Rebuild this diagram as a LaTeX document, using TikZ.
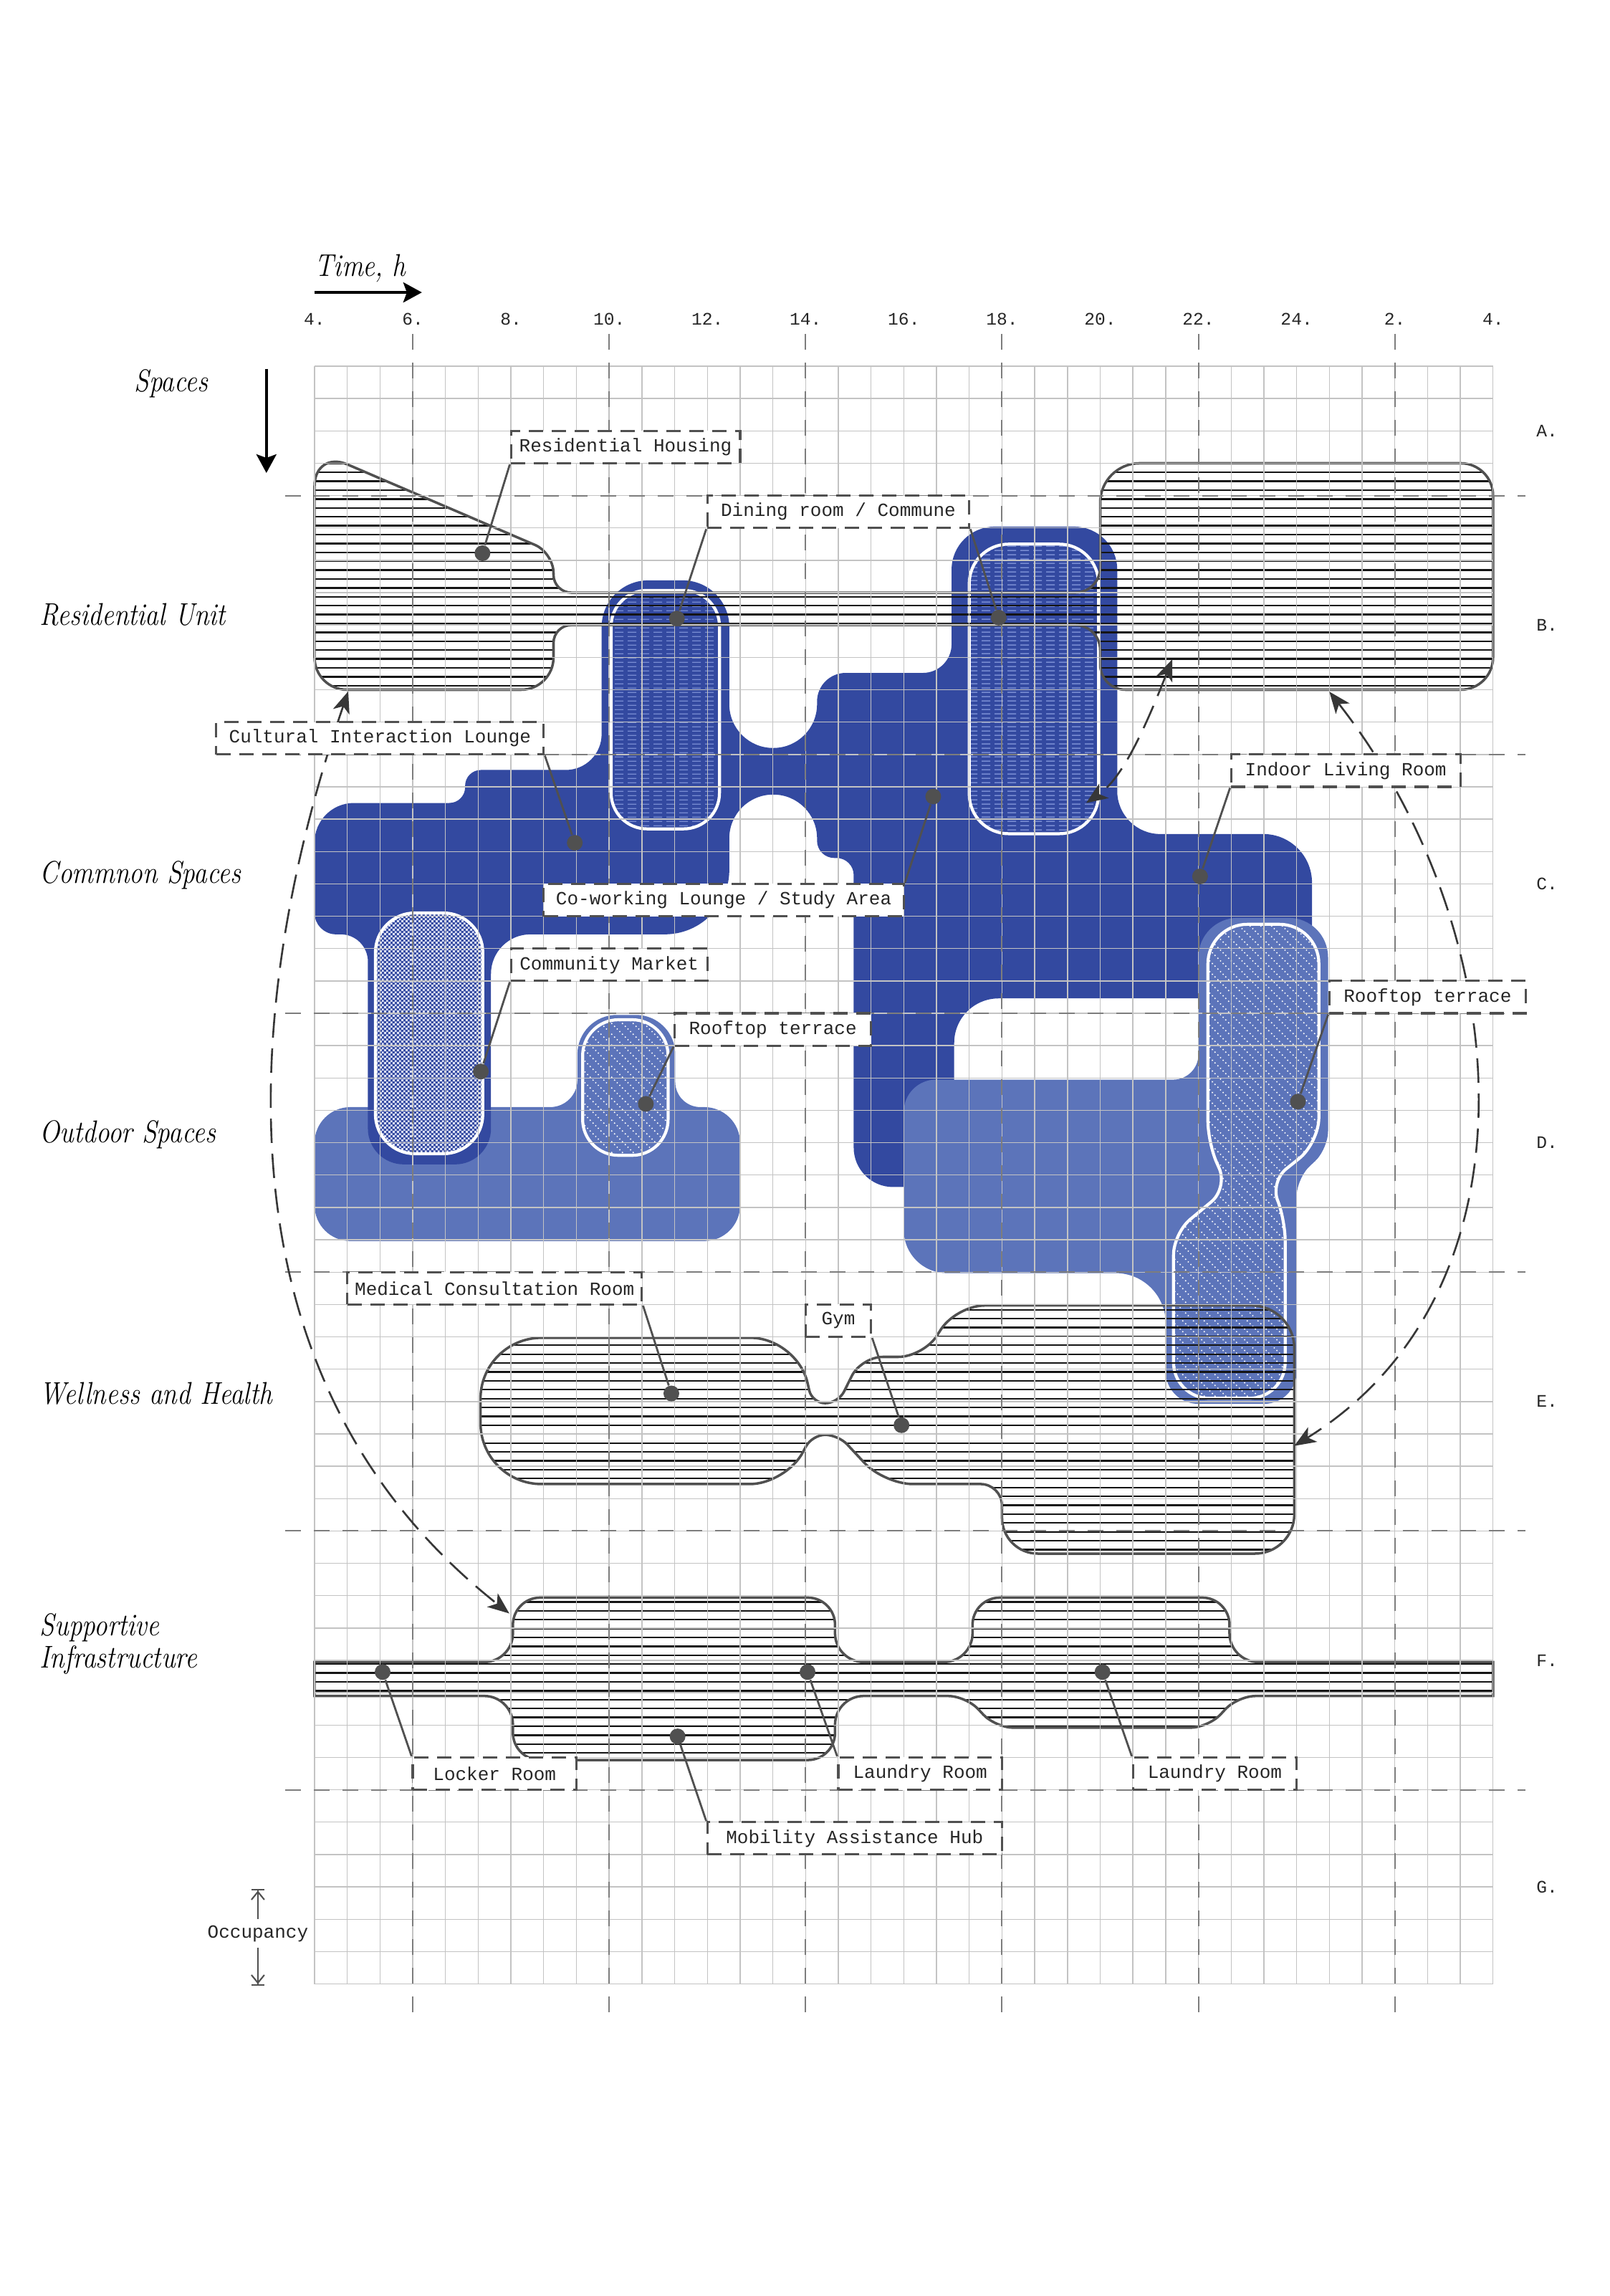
\documentclass[tikz,border=0pt]{standalone}
\usepackage{fontspec}
\usepackage{graphicx}
\usetikzlibrary{arrows.meta, patterns}
\newfontfamily\monofont{Liberation Mono}

\definecolor{darkblue}{RGB}{51,73,160}
\definecolor{lightblue}{RGB}{92,116,186}
\definecolor{outlinegray}{RGB}{80,80,80}
\definecolor{hatchblack}{RGB}{20,20,20}
\definecolor{gridgray}{RGB}{195,195,195}
\definecolor{guidegray}{RGB}{125,125,125}
\definecolor{linkgray}{RGB}{55,55,55}
\definecolor{checkwhite}{RGB}{222,226,246}
\definecolor{dashblue}{RGB}{120,140,210}

\newcommand{\cellw}{0.4569cm}
\newcommand{\cellh}{0.4515cm}
\newcommand{\narrow}[1]{\scalebox{0.85}[1]{#1}}

% fill textures
\pgfdeclarepatternformonly{finechecker}{\pgfqpoint{0pt}{0pt}}{\pgfqpoint{1.8pt}{1.8pt}}{\pgfqpoint{1.8pt}{1.8pt}}{%
  \pgfpathrectangle{\pgfqpoint{0pt}{0pt}}{\pgfqpoint{0.9pt}{0.9pt}}%
  \pgfpathrectangle{\pgfqpoint{0.9pt}{0.9pt}}{\pgfqpoint{0.9pt}{0.9pt}}%
  \pgfusepath{fill}}
\pgfdeclarepatternformonly{finedashes}{\pgfqpoint{0pt}{0pt}}{\pgfqpoint{5.2pt}{1.8pt}}{\pgfqpoint{5.2pt}{1.8pt}}{%
  \pgfsetlinewidth{0.4pt}%
  \pgfpathmoveto{\pgfqpoint{0pt}{0.9pt}}\pgfpathlineto{\pgfqpoint{3.6pt}{0.9pt}}%
  \pgfusepath{stroke}}
\pgfdeclarepatternformonly{dotdiagonal}{\pgfqpoint{0pt}{0pt}}{\pgfqpoint{4.2pt}{4.2pt}}{\pgfqpoint{4.2pt}{4.2pt}}{%
  \pgfpathcircle{\pgfqpoint{0.525pt}{3.675pt}}{0.32pt}%
  \pgfpathcircle{\pgfqpoint{1.575pt}{2.625pt}}{0.32pt}%
  \pgfpathcircle{\pgfqpoint{2.625pt}{1.575pt}}{0.32pt}%
  \pgfpathcircle{\pgfqpoint{3.675pt}{0.525pt}}{0.32pt}%
  \pgfusepath{fill}}

\begin{document}
\begin{tikzpicture}[
    x=0.4569cm, y=-0.4515cm,
    darkzone/.style={fill=darkblue},
    lightzone/.style={fill=lightblue},
    innerzone/.style={draw=white, line width=1.2pt},
    zoneline/.style={draw=outlinegray, line width=1pt},
    hatched/.style={path picture={
        \foreach \k in {0,...,32}
          \draw[hatchblack, line width=0.65pt]
            ([yshift=-0.06cm-\k*0.124cm]path picture bounding box.north west) -- ++(40,0);}},
    gridline/.style={gridgray, line width=0.4pt},
    guideline/.style={guidegray, line width=0.55pt, dash pattern=on 2.2mm off 1.8mm},
    relation/.style={linkgray, line width=0.75pt, dash pattern=on 3.4mm off 1.5mm,
        {Stealth[length=3mm,width=2.4mm,inset=0.8mm]}-{Stealth[length=3mm,width=2.4mm,inset=0.8mm]}},
    leaderline/.style={outlinegray, line width=0.8pt},
    anchordot/.style={circle, fill=outlinegray, inner sep=0pt, minimum size=2.2mm},
    labelbox/.style={draw=outlinegray, fill=white, line width=0.9pt, dash pattern=on 2mm off 1.2mm,
        font=\monofont\fontsize{7.4}{8}\selectfont, text=black!85, inner sep=0pt, minimum height=\cellh},
    ticklabel/.style={font=\monofont\fontsize{7}{8}\selectfont, text=black!85},
    rowtitle/.style={anchor=west, font=\fontsize{12.5}{12.8}\selectfont\itshape, align=left, inner sep=0pt},
    axisarrow/.style={line width=1.1pt, -{Stealth[length=2.6mm,width=2.8mm,inset=0.5mm]}},
    spanarrow/.style={outlinegray, line width=0.6pt, -{Straight Barb[length=1.1mm,width=1.8mm] Bar[width=1.8mm]}}
]
    \useasboundingbox (-9.608,-11.318) rectangle (39.571,59.646);

    % Outdoor spaces (left)
    \path[lightzone] (4,22.9) [rounded corners=0.38cm] -- (8.03,22.9)
        [rounded corners=0.55cm] -- (8.03,20.05) [rounded corners=0.55cm] -- (11.02,20.05)
        [rounded corners=0.35cm] -- (11.02,22.9) [rounded corners=0.5cm] -- (13,22.9)
        [rounded corners=0.5cm] -- (13,27.04) [rounded corners=0.5cm] -- (0,27.04)
        [rounded corners=0.5cm] -- (0,22.9) [sharp corners] -- cycle;

    % Common spaces
    \path[darkzone] (0,15.5) [rounded corners=0.55cm] -- (0,13.5)
        [rounded corners=0.22cm] -- (4.6,13.5) [rounded corners=0.22cm] -- (4.6,12.48)
        [rounded corners=0.5cm] -- (8.77,12.48) [rounded corners=0.65cm] -- (8.77,6.62)
        [rounded corners=0.65cm] -- (12.67,6.62) [rounded corners=0.61cm] -- (12.67,11.8)
        [rounded corners=0.61cm] -- (15.35,11.8) [rounded corners=0.4cm] -- (15.35,9.48)
        [rounded corners=0.4cm] -- (19.46,9.48) [rounded corners=0.6cm] -- (19.46,4.96)
        [rounded corners=0.6cm] -- (24.52,4.96) [rounded corners=0.6cm] -- (24.52,14.46)
        [rounded corners=0.68cm] -- (30.47,14.46) [rounded corners=0.2cm] -- (30.47,19.54)
        [rounded corners=0.62cm] -- (19.54,19.54) [rounded corners=0.2cm] -- (19.54,25.37)
        [rounded corners=0.55cm] -- (16.47,25.37) [rounded corners=0.24cm] -- (16.47,15.2)
        [rounded corners=0.24cm] -- (15.35,15.2) [rounded corners=0.61cm] -- (15.35,13.24)
        [rounded corners=0.61cm] -- (12.67,13.24) [rounded corners=0.9cm] -- (12.67,17.56)
        [rounded corners=0.55cm] -- (5.39,17.56) [rounded corners=0.5cm] -- (5.39,24.67)
        [rounded corners=0.5cm] -- (1.63,24.67) [rounded corners=0.38cm] -- (1.63,17.56)
        [rounded corners=0.3cm] -- (0,17.56) [sharp corners] -- cycle;

    % Outdoor spaces (right) with rooftop
    \path[lightzone] (22,22.05) [rounded corners=0.35cm] -- (27,22.05)
        [rounded corners=0.55cm] -- (27,17.05) [rounded corners=0.55cm] -- (30.96,17.05)
        [rounded corners=0.25cm] -- (30.96,24.2) [rounded corners=0.25cm] -- (30,25.1)
        [rounded corners=0.45cm] -- (30,32.07) [rounded corners=0.45cm] -- (26,32.07)
        [rounded corners=0.7cm] -- (26,28.03) [rounded corners=0.6cm] -- (18,28.03)
        [rounded corners=0.45cm] -- (18,22.05) [sharp corners] -- cycle;

    % Inner rooms
    \path[innerzone, pattern=finedashes, pattern color=dashblue, rounded corners=0.5cm]
        (9.06,6.93) rectangle (12.37,14.3);
    \path[innerzone, pattern=finedashes, pattern color=dashblue, rounded corners=0.55cm]
        (20,5.5) rectangle (23.95,14.45);
    \path[innerzone, pattern=finechecker, pattern color=checkwhite, rounded corners=0.55cm]
        (1.86,16.9) rectangle (5.14,24.34);
    \path[innerzone, pattern=dotdiagonal, pattern color=white, rounded corners=0.5cm]
        (8.19,20.2) rectangle (10.8,24.39);
    \path[innerzone, pattern=dotdiagonal, pattern color=white] (27.29,20)
        [rounded corners=0.55cm] -- (27.29,17.25) [rounded corners=0.55cm] -- (30.68,17.25)
        [rounded corners=0.35cm] -- (30.68,24) [rounded corners=0.28cm] -- (29.2,25.2)
        [rounded corners=0.28cm] -- (29.65,26.4) [rounded corners=0.5cm] -- (29.65,31.9)
        [rounded corners=0.5cm] -- (26.24,31.9) [rounded corners=0.3cm] -- (26.24,26.8)
        [rounded corners=0.3cm] -- (27.9,25.4) [rounded corners=0.3cm] -- (27.29,24)
        [sharp corners] -- cycle;

    % Residential unit
    \path[zoneline, hatched] (0,6.5) [rounded corners=0.5cm] -- (0,2.6)
        [rounded corners=0.28cm] -- (7.3,5.77) [rounded corners=0.25cm] -- (7.3,7)
        [rounded corners=0.35cm] -- (24,7) [rounded corners=0.55cm] -- (24,3)
        [rounded corners=0.45cm] -- (36,3) [rounded corners=0.45cm] -- (36,10)
        [rounded corners=0.35cm] -- (24,10) [rounded corners=0.35cm] -- (24,8)
        [rounded corners=0.25cm] -- (7.3,8) [rounded corners=0.45cm] -- (7.3,10)
        [rounded corners=0.45cm] -- (0,10) [sharp corners] -- cycle;

    % Wellness and health
    \path[zoneline, hatched] (5.07,32.3) [rounded corners=0.85cm] -- (5.07,30.03)
        [rounded corners=0.65cm] -- (14.75,30.03) [rounded corners=0.18cm] -- (15.2,32.05)
        [rounded corners=0.18cm] -- (16,32.05) [rounded corners=0.3cm] -- (16.7,30.62)
        [rounded corners=0.35cm] -- (18.6,30.62) [rounded corners=0.4cm] -- (19.6,29.03)
        [rounded corners=0.6cm] -- (29.93,29.03) [rounded corners=0.55cm] -- (29.93,36.7)
        [rounded corners=0.5cm] -- (21,36.7) [rounded corners=0.3cm] -- (21,34.55)
        [rounded corners=0.4cm] -- (17.4,34.55) [rounded corners=0.18cm] -- (16,33.03)
        [rounded corners=0.18cm] -- (15.2,33.03) [rounded corners=0.5cm] -- (14.4,34.55)
        [rounded corners=0.85cm] -- (5.07,34.55) [sharp corners] -- cycle;

    % Supportive infrastructure
    \path[zoneline, hatched] (0,40.05) [rounded corners=0.4cm] -- (6.06,40.05)
        [rounded corners=0.38cm] -- (6.06,38.06) [rounded corners=0.38cm] -- (15.9,38.06)
        [rounded corners=0.4cm] -- (15.9,40.05) [rounded corners=0.4cm] -- (20.1,40.05)
        [rounded corners=0.38cm] -- (20.1,38.06) [rounded corners=0.38cm] -- (27.95,38.06)
        [rounded corners=0.4cm] -- (27.95,40.05) [sharp corners] -- (36,40.05)
        [sharp corners] -- (36,41.1) [rounded corners=0.25cm] -- (28.2,41.1)
        [rounded corners=0.25cm] -- (27.3,42.08) [rounded corners=0.25cm] -- (20.8,42.08)
        [rounded corners=0.25cm] -- (19.9,41.1) [rounded corners=0.4cm] -- (15.9,41.1)
        [rounded corners=0.38cm] -- (15.9,43.08) [rounded corners=0.38cm] -- (6.06,43.08)
        [rounded corners=0.4cm] -- (6.06,41.1) [sharp corners] -- (0,41.1) -- cycle;

    % Grid and guides
    \foreach \c in {0,...,36} \draw[gridline] (\c,0) -- (\c,50);
    \foreach \r in {0,...,50} \draw[gridline] (0,\r) -- (36,\r);
    \foreach \c in {3,9,...,33} \draw[guideline] (\c,-1) -- (\c,51.1);
    \foreach \r in {4,12,...,44} \draw[guideline] (-0.9,\r) -- (37,\r);

    % Relations
    \coordinate (housingFoot) at (1.03,10.05);
    \coordinate (supportTop) at (5.95,38.55);
    \coordinate (livingFoot) at (31,10.06);
    \coordinate (wellnessSide) at (29.93,33.37);
    \coordinate (livingCorner) at (26.2,9.06);
    \coordinate (communeSide) at (23.57,13.5);
    \draw[relation] (housingFoot) .. controls (-2,19) and (-3.5,31) .. (supportTop);
    \draw[relation] (livingFoot) .. controls (36.7,17.43) and (37.6,28.55) .. (wellnessSide);
    \draw[relation] (livingCorner) .. controls (25.48,10.9) and (24.74,12.7) .. (communeSide);

    % Pins
    \node[anchordot] (dotHousing) at (5.13,5.78) {};
    \node[anchordot] (dotDining) at (11.07,7.8) {};
    \node[anchordot] (dotCommune) at (20.9,7.77) {};
    \node[anchordot] (dotCultural) at (7.95,14.73) {};
    \node[anchordot] (dotCoworking) at (18.9,13.3) {};
    \node[anchordot] (dotLiving) at (27.05,15.77) {};
    \node[anchordot] (dotMarket) at (5.08,21.8) {};
    \node[anchordot] (dotRoofWest) at (10.12,22.8) {};
    \node[anchordot] (dotRoofEast) at (30.04,22.73) {};
    \node[anchordot] (dotMedical) at (10.9,31.75) {};
    \node[anchordot] (dotGym) at (17.93,32.73) {};
    \node[anchordot] (dotLocker) at (2.08,40.36) {};
    \node[anchordot] (dotLaundryA) at (15.06,40.36) {};
    \node[anchordot] (dotLaundryB) at (24.07,40.36) {};
    \node[anchordot] (dotMobility) at (11.09,42.35) {};

    % Labels
    \node[labelbox, minimum width=7*\cellw] (tagHousing) at (9.5,2.5) {Residential Housing};
    \node[labelbox, minimum width=8*\cellw] (tagDining) at (16,4.5) {Dining room / Commune};
    \node[labelbox, minimum width=10*\cellw] (tagCultural) at (2,11.5) {Cultural Interaction Lounge};
    \node[labelbox, minimum width=7*\cellw] (tagLiving) at (31.5,12.5) {Indoor Living Room};
    \node[labelbox, minimum width=11*\cellw] (tagCoworking) at (12.5,16.5) {Co-working Lounge / Study Area};
    \node[labelbox, minimum width=6*\cellw] (tagMarket) at (9,18.5) {Community Market};
    \node[labelbox, minimum width=6*\cellw] (tagRoofWest) at (14,20.5) {Rooftop terrace};
    \node[labelbox, minimum width=6*\cellw] (tagRoofEast) at (34,19.5) {Rooftop terrace};
    \node[labelbox, minimum width=9*\cellw] (tagMedical) at (5.5,28.5) {Medical Consultation Room};
    \node[labelbox, minimum width=2*\cellw] (tagGym) at (16,29.5) {Gym};
    \node[labelbox, minimum width=5*\cellw] (tagLocker) at (5.5,43.5) {Locker Room};
    \node[labelbox, minimum width=5*\cellw] (tagLaundryA) at (18.5,43.5) {Laundry Room};
    \node[labelbox, minimum width=5*\cellw] (tagLaundryB) at (27.5,43.5) {Laundry Room};
    \node[labelbox, minimum width=9*\cellw] (tagMobility) at (16.5,45.5) {Mobility Assistance Hub};

    % Leaders
    \draw[leaderline] (tagHousing.south west) -- (dotHousing);
    \draw[leaderline] (tagDining.south west) -- (dotDining);
    \draw[leaderline] (tagDining.south east) -- (dotCommune);
    \draw[leaderline] (tagCultural.south east) -- (dotCultural);
    \draw[leaderline] (tagCoworking.north east) -- (dotCoworking);
    \draw[leaderline] (tagLiving.south west) -- (dotLiving);
    \draw[leaderline] (tagMarket.south west) -- (dotMarket);
    \draw[leaderline] (tagRoofWest.south west) -- (dotRoofWest);
    \draw[leaderline] (tagRoofEast.south west) -- (dotRoofEast);
    \draw[leaderline] (tagMedical.south east) -- (dotMedical);
    \draw[leaderline] (tagGym.south east) -- (dotGym);
    \draw[leaderline] (tagLocker.north west) -- (dotLocker);
    \draw[leaderline] (tagLaundryA.north west) -- (dotLaundryA);
    \draw[leaderline] (tagLaundryB.north west) -- (dotLaundryB);
    \draw[leaderline] (tagMobility.north west) -- (dotMobility);

    % Axes
    \foreach \h [count=\i from 0] in {4,6,8,10,12,14,16,18,20,22,24,2,4}
        \node[ticklabel] (hour\i) at ({3*\i},-1.46) {\h.};
    \foreach \l/\r in {A/2,B/8,C/16,D/24,E/32,F/40,G/47}
        \node[ticklabel] (row\l) at (37.65,\r) {\l.};

    \node[rowtitle, anchor=base west] (timeTitle) at (0,-2.79) {\narrow{Time, h}};
    \coordinate (timeTail) at (0,-2.28);
    \coordinate (timeHead) at (3.28,-2.28);
    \draw[axisarrow] (timeTail) -- (timeHead);

    \node[rowtitle, anchor=center] (spacesTitle) at (-4.38,0.54) {\narrow{Spaces}};
    \coordinate (spacesTail) at (-1.47,0.08);
    \coordinate (spacesHead) at (-1.47,3.3);
    \draw[axisarrow] (spacesTail) -- (spacesHead);

    \node[rowtitle] (titleResidential) at (-8.4,7.69) {\narrow{Residential Unit}};
    \node[rowtitle] (titleCommon) at (-8.4,15.74) {\narrow{Commnon Spaces}};
    \node[rowtitle] (titleOutdoor) at (-8.4,23.75) {\narrow{Outdoor Spaces}};
    \node[rowtitle] (titleWellness) at (-8.4,31.76) {\narrow{Wellness and Health}};
    \node[rowtitle] (titleSupport) at (-8.4,39.5) {\narrow{Supportive}\\\narrow{Infrastructure}};

    \node[ticklabel, font=\monofont\fontsize{7.4}{8}\selectfont, inner sep=0.8mm] (occupancy) at (-1.73,48.44) {Occupancy};
    \coordinate (occupancyTop) at (-1.73,47.07);
    \coordinate (occupancyBottom) at (-1.73,50.05);
    \draw[spanarrow] (occupancy.north) -- (occupancyTop);
    \draw[spanarrow] (occupancy.south) -- (occupancyBottom);
\end{tikzpicture}
\end{document}
